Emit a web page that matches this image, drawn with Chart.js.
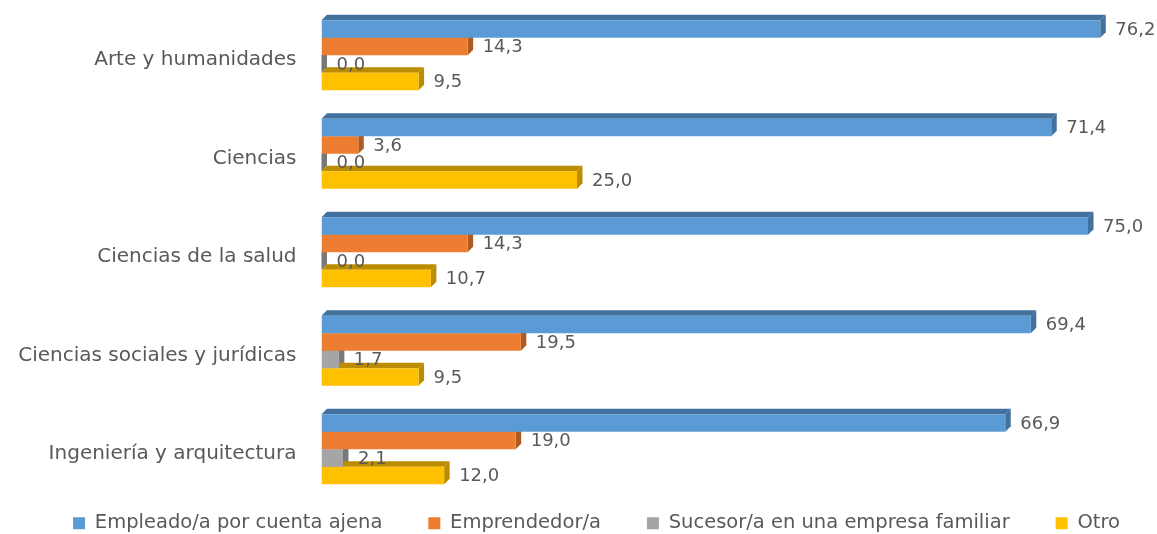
<!DOCTYPE html>
<html><head><meta charset="utf-8">
<script src="https://cdn.jsdelivr.net/npm/chart.js@4.4.1/dist/chart.umd.min.js"></script>
<style>html,body{margin:0;padding:0;background:#fff}#wrap{width:1157px;height:534px}</style>
</head><body><div id="wrap"><canvas id="c"></canvas></div>
<script>
const categories = ['Arte y humanidades','Ciencias','Ciencias de la salud','Ciencias sociales y jurídicas','Ingeniería y arquitectura'];
const seriesNames = ['Empleado/a por cuenta ajena','Emprendedor/a','Sucesor/a en una empresa familiar','Otro'];
const empleado = [76.2,71.4,75.0,69.4,66.9];
const emprendedor = [14.3,3.6,14.3,19.5,19.0];
const sucesor = [0.0,0.0,0.0,1.7,2.1];
const otro = [9.5,25.0,10.7,9.5,12.0];
const frontColors = ['#5B9BD5','#ED7D31','#A5A5A5','#FFC000'];
const sideColors = ['#41719C','#AE5A21','#787878','#BC8C00'];
const FONT = 'DejaVu Sans';
const TXT = '#595959';
const D = 5.5;
const PAD_L = 10;
const LEGEND_SHIFT = 13;

const threeD = {
  id:'threeD',
  afterLayout(chart){
    if(chart.legend){ chart.legend.left += LEGEND_SHIFT; chart.legend.right += LEGEND_SHIFT; }
  },
  beforeDatasetsDraw(chart){
    const ctx=chart.ctx; ctx.save();
    chart.data.datasets.forEach((ds,i)=>{
      const meta=chart.getDatasetMeta(i);
      meta.data.forEach(bar=>{
        const x0=bar.base, x1=bar.x, top=bar.y-bar.height/2, bot=bar.y+bar.height/2;
        ctx.fillStyle=sideColors[i];
        ctx.beginPath();
        ctx.moveTo(x0,top);ctx.lineTo(x1,top);ctx.lineTo(x1+D,top-D);ctx.lineTo(x0+D,top-D);ctx.closePath();ctx.fill();
        ctx.beginPath();
        ctx.moveTo(x1,top);ctx.lineTo(x1+D,top-D);ctx.lineTo(x1+D,bot-D);ctx.lineTo(x1,bot);ctx.closePath();ctx.fill();
      });
    });
    ctx.restore();
  },
  afterDatasetsDraw(chart){
    const ctx=chart.ctx; ctx.save();
    ctx.font='18px "'+FONT+'"'; ctx.fillStyle=TXT; ctx.textAlign='left'; ctx.textBaseline='middle';
    chart.data.datasets.forEach((ds,i)=>{
      const meta=chart.getDatasetMeta(i);
      meta.data.forEach((bar,j)=>{
        ctx.fillText(ds.data[j].toFixed(1).replace('.',','), bar.x+15, bar.y+1);
      });
    });
    ctx.restore();
  }
};

const allSeries=[empleado,emprendedor,sucesor,otro];
new Chart(document.getElementById('c'),{
  type:'bar',
  data:{labels:categories,datasets:allSeries.map((d,i)=>({label:seriesNames[i],data:d,backgroundColor:frontColors[i],borderWidth:0,categoryPercentage:0.71,barPercentage:1}))},
  options:{
    indexAxis:'y',responsive:true,maintainAspectRatio:false,animation:false,
    layout:{padding:{top:6,right:0,left:PAD_L,bottom:-9}},
    scales:{
      x:{min:0,max:81.75,display:false,grid:{display:false}},
      y:{grid:{display:false,drawTicks:false},border:{display:false},
         ticks:{color:TXT,font:{family:FONT,size:20},padding:25,labelOffset:5},
         afterFit(s){s.width=321.5-PAD_L;s.paddingTop=0;s.paddingBottom=0;}}
    },
    plugins:{
      legend:{position:'bottom',labels:{boxWidth:12,boxHeight:12,padding:15,color:TXT,font:{family:FONT,size:19.5},
        generateLabels(chart){
          const items=Chart.defaults.plugins.legend.labels.generateLabels(chart);
          items.forEach((it,k)=>{ if(k<items.length-1) it.text=it.text+'     '; it.lineWidth=0;});
          return items;
        }}},
      tooltip:{enabled:false}
    }
  },
  plugins:[threeD]
});
</script></body></html>
